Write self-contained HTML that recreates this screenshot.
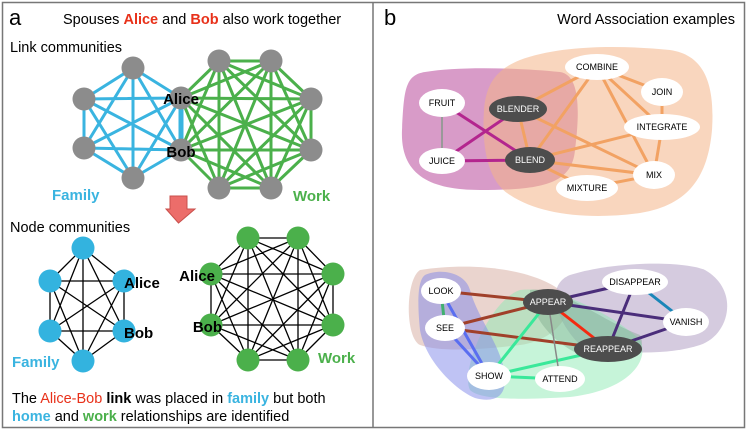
<!DOCTYPE html>
<html><head><meta charset="utf-8"><style>
html,body{margin:0;padding:0;background:#fff;}
svg{display:block;font-family:"Liberation Sans",sans-serif;}
</style></head><body>
<svg width="747" height="430" viewBox="0 0 747 430" xmlns="http://www.w3.org/2000/svg">
<rect x="2.5" y="2.5" width="742" height="425" fill="#fff" stroke="#777" stroke-width="1.5"/>
<line x1="373" y1="2" x2="373" y2="428" stroke="#777" stroke-width="1.5"/>
<text x="9" y="25" font-size="22">a</text>
<text x="63" y="24" font-size="14.5">Spouses <tspan fill="#e8311a" font-weight="bold">Alice</tspan> and <tspan fill="#e8311a" font-weight="bold">Bob</tspan> also work together</text>
<text x="10" y="52" font-size="14.5">Link communities</text>
<g stroke="#3ab4e0" stroke-width="3">
<path d="M133,68L84,99M133,68L84,148M133,68L133,178M133,68L181,98M133,68L181,150M84,99L84,148M84,99L133,178M84,99L181,98M84,99L181,150M84,148L133,178M84,148L181,98M84,148L181,150M133,178L181,98M133,178L181,150"/>
<path d="M181,98L181,150" stroke-width="5"/>
</g>
<g stroke="#4bb04b" stroke-width="3">
<path d="M181,98L219,61M181,98L271,61M181,98L311,99M181,98L311,150M181,98L271,188M181,98L219,188M181,150L219,61M181,150L271,61M181,150L311,99M181,150L311,150M181,150L271,188M181,150L219,188M219,61L271,61M219,61L311,99M219,61L311,150M219,61L271,188M219,61L219,188M271,61L311,99M271,61L311,150M271,61L271,188M271,61L219,188M311,99L311,150M311,99L271,188M311,99L219,188M311,150L271,188M311,150L219,188M271,188L219,188"/>
</g>
<g fill="#8c8c8c">
<circle cx="133" cy="68" r="11.5"/><circle cx="84" cy="99" r="11.5"/><circle cx="84" cy="148" r="11.5"/><circle cx="133" cy="178" r="11.5"/>
<circle cx="181" cy="98" r="11.5"/><circle cx="181" cy="150" r="11.5"/>
<circle cx="219" cy="61" r="11.5"/><circle cx="271" cy="61" r="11.5"/><circle cx="311" cy="99" r="11.5"/><circle cx="311" cy="150" r="11.5"/><circle cx="271" cy="188" r="11.5"/><circle cx="219" cy="188" r="11.5"/>
</g>
<text x="181" y="104" font-size="15" font-weight="bold" text-anchor="middle">Alice</text>
<text x="181" y="157" font-size="15" font-weight="bold" text-anchor="middle">Bob</text>
<text x="52" y="200" font-size="15" font-weight="bold" fill="#3ab4e0">Family</text>
<text x="293" y="201" font-size="15" font-weight="bold" fill="#4bb04b">Work</text>
<path d="M170,196H187V209H195L178.5,223L166,209H170Z" fill="#ec6d6a" stroke="#c9504c" stroke-width="1"/>
<text x="10" y="232" font-size="14.5">Node communities</text>
<g stroke="#000" stroke-width="1.3">
<path d="M83,248L50,281M83,248L50,331M83,248L83,361M83,248L124,281M83,248L124,331M50,281L50,331M50,281L83,361M50,281L124,281M50,281L124,331M50,331L83,361M50,331L124,281M50,331L124,331M83,361L124,281M83,361L124,331M124,281L124,331"/>
<path d="M211,274L248,238M211,274L298,238M211,274L333,274M211,274L333,325M211,274L298,360M211,274L248,360M211,274L211,325M211,325L248,238M211,325L298,238M211,325L333,274M211,325L333,325M211,325L298,360M211,325L248,360M248,238L298,238M248,238L333,274M248,238L333,325M248,238L298,360M248,238L248,360M298,238L333,274M298,238L333,325M298,238L298,360M298,238L248,360M333,274L333,325M333,274L298,360M333,274L248,360M333,325L298,360M333,325L248,360M298,360L248,360"/>
</g>
<g fill="#33b3df">
<circle cx="83" cy="248" r="11.5"/><circle cx="50" cy="281" r="11.5"/><circle cx="50" cy="331" r="11.5"/><circle cx="83" cy="361" r="11.5"/><circle cx="124" cy="281" r="11.5"/><circle cx="124" cy="331" r="11.5"/>
</g>
<g fill="#4bb04b">
<circle cx="248" cy="238" r="11.5"/><circle cx="298" cy="238" r="11.5"/><circle cx="333" cy="274" r="11.5"/><circle cx="333" cy="325" r="11.5"/><circle cx="298" cy="360" r="11.5"/><circle cx="248" cy="360" r="11.5"/><circle cx="211" cy="274" r="11.5"/><circle cx="211" cy="325" r="11.5"/>
</g>
<text x="124" y="288" font-size="15" font-weight="bold">Alice</text>
<text x="124" y="338" font-size="15" font-weight="bold">Bob</text>
<text x="12" y="367" font-size="15" font-weight="bold" fill="#3ab4e0">Family</text>
<text x="215" y="281" font-size="15" font-weight="bold" text-anchor="end">Alice</text>
<text x="222" y="332" font-size="15" font-weight="bold" text-anchor="end">Bob</text>
<text x="318" y="363" font-size="15" font-weight="bold" fill="#4bb04b">Work</text>
<text x="12" y="403" font-size="14.5">The <tspan fill="#e8311a">Alice-Bob</tspan> <tspan font-weight="bold">link</tspan> was placed in <tspan fill="#3ab4e0" font-weight="bold">family</tspan> but both</text>
<text x="12" y="421" font-size="14.5"><tspan fill="#3ab4e0" font-weight="bold">home</tspan> and <tspan fill="#4bb04b" font-weight="bold">work</tspan> relationships are identified</text>

<text x="384" y="25" font-size="22">b</text>
<text x="735" y="24" font-size="14.5" text-anchor="end">Word Association examples</text>

<!-- top network -->
<path d="M425,72C460,66 520,68 560,72C580,75 580,110 575,150C572,185 540,190 480,190C430,190 400,175 402,130C404,90 405,75 425,72Z" fill="#c871b0" fill-opacity="0.7"/>
<path d="M520,60C560,45 620,45 670,50C705,55 715,85 712,130C708,175 690,205 640,213C590,220 540,215 510,195C485,180 482,140 484,110C486,85 495,70 520,60Z" fill="#f4b489" fill-opacity="0.55"/>
<g stroke="#f2a263" stroke-width="3">
<path d="M518,109L597,67M530,160L597,67M597,67L662,92M597,67L662,127M597,67L654,175M518,109L654,175M530,160L662,127M530,160L654,175M530,160L587,188M587,188L654,175M662,92L662,127M662,127L654,175M518,109L530,160"/>
</g>
<g stroke="#b3258e" stroke-width="3">
<path d="M442,103L530,160M442,161L518,109M442,161L530,160"/>
</g>
<line x1="442" y1="103" x2="442" y2="161" stroke="#999" stroke-width="2"/>
<g fill="#fff">
<ellipse cx="597" cy="67" rx="32" ry="13"/><ellipse cx="662" cy="92" rx="21" ry="14"/><ellipse cx="662" cy="127" rx="38" ry="13"/><ellipse cx="654" cy="175" rx="21" ry="14"/><ellipse cx="587" cy="188" rx="31" ry="13"/><ellipse cx="442" cy="103" rx="23" ry="14"/><ellipse cx="442" cy="161" rx="23" ry="13"/>
</g>
<g fill="#4d4d4d"><ellipse cx="518" cy="109" rx="29" ry="13"/><ellipse cx="530" cy="160" rx="25" ry="13"/></g>
<g font-size="9" text-anchor="middle">
<text x="597" y="70">COMBINE</text><text x="662" y="95">JOIN</text><text x="662" y="130">INTEGRATE</text><text x="654" y="178">MIX</text><text x="587" y="191">MIXTURE</text><text x="442" y="106">FRUIT</text><text x="442" y="164">JUICE</text>
<text x="518" y="112" fill="#fff">BLENDER</text><text x="530" y="163" fill="#fff">BLEND</text>
</g>

<!-- bottom network -->
<path d="M420,270C470,262 530,268 560,290C580,305 560,340 520,345C480,350 440,352 420,345C405,338 405,280 420,270Z" fill="#d9b1a6" fill-opacity="0.55"/>
<path d="M570,275C610,262 680,260 705,270C740,290 730,335 700,345C670,355 620,355 580,345C555,320 545,285 570,275Z" fill="#b9a8c9" fill-opacity="0.6"/>
<path d="M520,290C560,285 620,320 640,340C650,360 630,390 570,397C520,400 480,400 470,390C460,370 490,300 520,290Z" fill="#8ee9b3" fill-opacity="0.5"/>
<path d="M425,275C440,268 465,272 470,290C478,320 505,350 505,380C505,400 490,402 475,398C455,390 425,360 420,330C417,300 418,280 425,275Z" fill="#7f88ea" fill-opacity="0.5"/>
<path d="M530,290C560,285 600,320 640,335C650,355 620,365 590,358C560,350 530,320 530,290Z" fill="#6f9e80" fill-opacity="0.35"/>
<g stroke-width="3">
<path d="M441,291L548,302M445,328L548,302M445,328L608,349" stroke="#a0402a"/>
<path d="M441,291L445,328" stroke="#40b070"/>
<path d="M441,291L489,376M445,328L489,376" stroke="#5a6ef0"/>
<path d="M548,302L489,376M608,349L489,376M489,376L560,379" stroke="#3ae89a"/>
<path d="M548,302L608,349" stroke="#f52a10"/>
<path d="M548,302L635,282M548,302L686,322M635,282L608,349M686,322L608,349" stroke="#4a2d7a"/>
<path d="M635,282L686,322" stroke="#1a86b8"/>
<path d="M548,302L560,379" stroke="#888" stroke-width="1.5"/>
</g>
<g fill="#fff">
<ellipse cx="441" cy="291" rx="20" ry="13"/><ellipse cx="445" cy="328" rx="20" ry="13"/><ellipse cx="489" cy="376" rx="22" ry="14"/><ellipse cx="560" cy="379" rx="25" ry="13"/><ellipse cx="635" cy="282" rx="33" ry="13"/><ellipse cx="686" cy="322" rx="23" ry="14"/>
</g>
<g fill="#4d4d4d"><ellipse cx="548" cy="302" rx="25" ry="13"/><ellipse cx="608" cy="349" rx="34" ry="13"/></g>
<g font-size="9" text-anchor="middle">
<text x="441" y="294">LOOK</text><text x="445" y="331">SEE</text><text x="489" y="379">SHOW</text><text x="560" y="382">ATTEND</text><text x="635" y="285">DISAPPEAR</text><text x="686" y="325">VANISH</text>
<text x="548" y="305" fill="#fff">APPEAR</text><text x="608" y="352" fill="#fff">REAPPEAR</text>
</g>
</svg>
</body></html>
